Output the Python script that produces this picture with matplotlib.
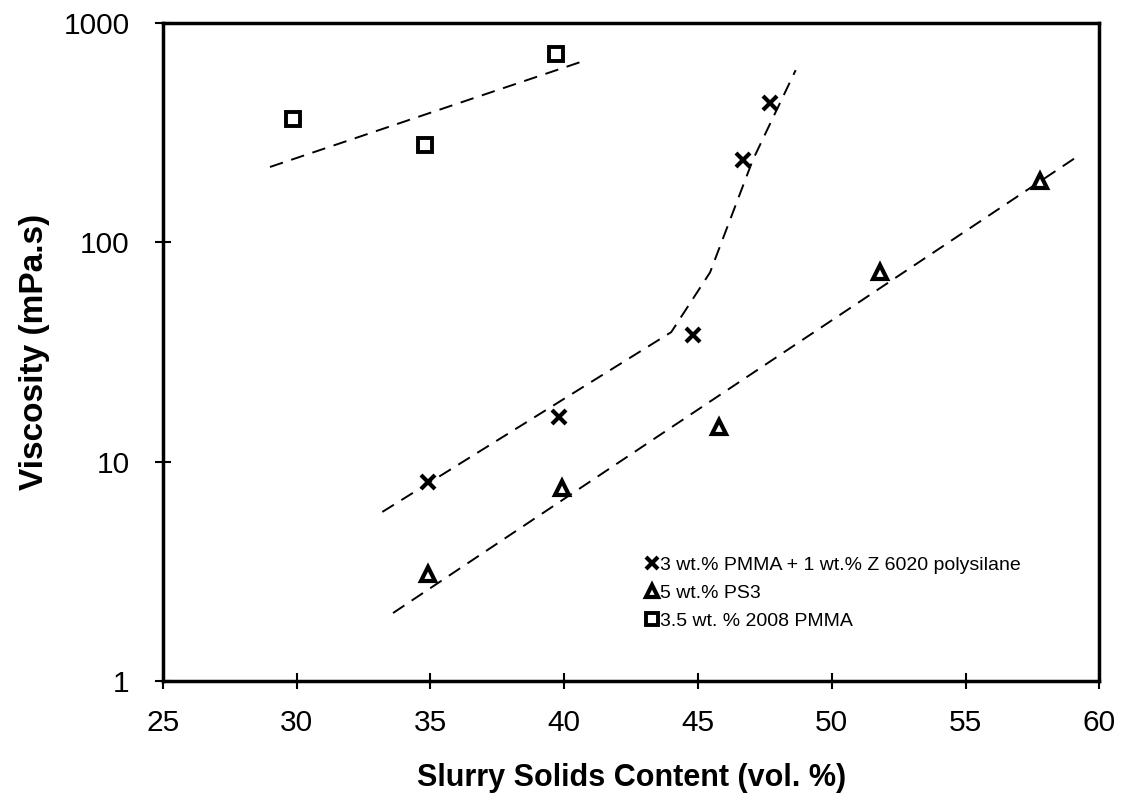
import numpy as np
import matplotlib.pyplot as plt

plt.rcParams['font.family'] = ['Liberation Sans', 'DejaVu Sans']

# 3 wt.% PMMA + 1 wt.% Z 6020 polysilane
x_pmma_z = [34.9, 39.8, 44.8, 46.7, 47.7]
y_pmma_z = [8.1, 16.0, 37.8, 238, 432]
fit_x_pmma_z = [33.2, 44.0, 45.45, 47.05, 48.65]
fit_y_pmma_z = [5.9, 39, 73, 238, 611]

# 5 wt.% PS3
x_ps3 = [34.9, 39.9, 45.8, 51.8, 57.8]
y_ps3 = [3.08, 7.6, 14.4, 73, 190]
fit_x_ps3 = [33.6, 59.1]
fit_y_ps3 = [2.04, 243]

# 3.5 wt. % 2008 PMMA
x_pmma = [29.85, 34.8, 39.7]
y_pmma = [366, 278, 723]
fit_x_pmma = [29.0, 40.6]
fit_y_pmma = [221, 665]

labels = ['3 wt.% PMMA + 1 wt.% Z 6020 polysilane', '5 wt.% PS3', '3.5 wt. % 2008 PMMA']
xticks = [25, 30, 35, 40, 45, 50, 55, 60]
yticks = [1, 10, 100, 1000]

fig = plt.figure(figsize=(11.24, 8.02), dpi=100)
ax = fig.add_axes([0.145, 0.151, 0.833, 0.820])

dash = dict(color='black', lw=1.4, ls=(0, (7, 4.5)))
ax.plot(fit_x_pmma_z, fit_y_pmma_z, **dash)
ax.plot(fit_x_ps3, fit_y_ps3, **dash)
ax.plot(fit_x_pmma, fit_y_pmma, **dash)

ax.plot(x_pmma_z, y_pmma_z, 'x', color='black', ms=10, mew=3, ls='none', label=labels[0])
ax.plot(x_ps3, y_ps3, '^', mfc='white', mec='black', ms=9.5, mew=3, ls='none', label=labels[1])
ax.plot(x_pmma, y_pmma, 's', mfc='white', mec='black', ms=9.5, mew=2.8, ls='none', label=labels[2])

ax.set_yscale('log')
ax.set_xlim(25, 60)
ax.set_ylim(1, 1000)
ax.set_xticks(xticks)
ax.set_xticklabels([str(t) for t in xticks])
ax.set_yticks(yticks)
ax.set_yticklabels([str(t) for t in yticks])
ax.minorticks_off()
ax.tick_params(axis='both', direction='inout', length=12, width=1.5, labelsize=21.5)
ax.tick_params(axis='y', pad=18)
ax.tick_params(axis='x', pad=14)

for s in ax.spines.values():
    s.set_linewidth(2.5)

ax.set_xlabel('Slurry Solids Content (vol. %)', fontsize=22, fontweight='bold', labelpad=19)
ax.set_ylabel('Viscosity (mPa.s)', fontsize=24, fontweight='bold', labelpad=10)

ax.legend(loc='upper left', bbox_to_anchor=(0.516, 0.19), frameon=False, fontsize=14,
          handlelength=0.6, handletextpad=0.1, labelspacing=0.55, markerscale=0.85,
          borderaxespad=0, borderpad=0)

fig.savefig('out.png', dpi=100)
